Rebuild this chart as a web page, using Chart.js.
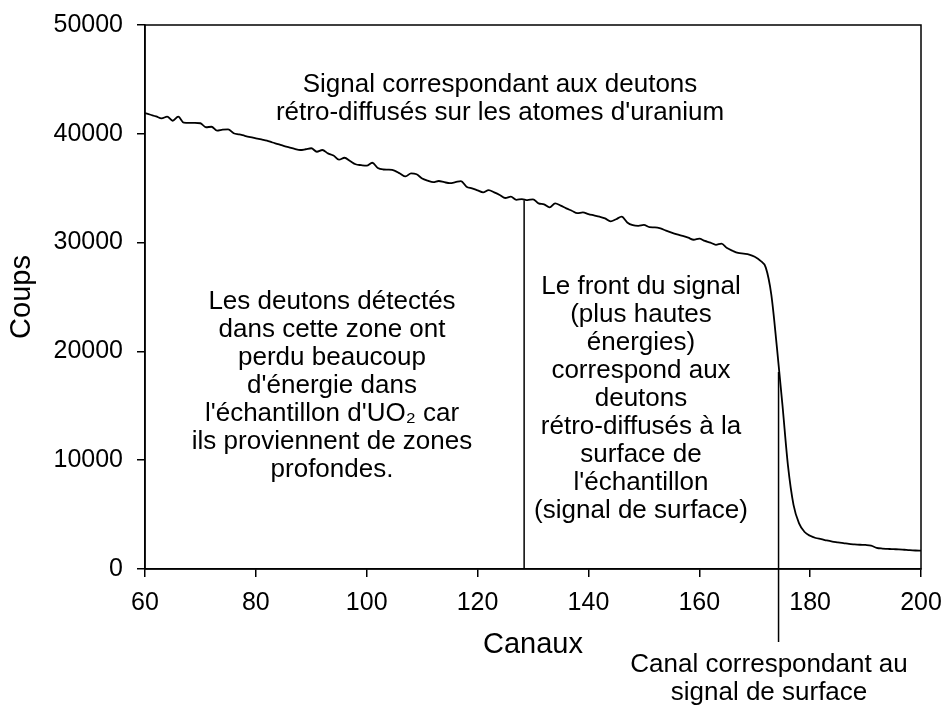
<!DOCTYPE html>
<html lang="fr">
<head>
<meta charset="utf-8">
<title>Coups / Canaux</title>
<script src="https://cdn.jsdelivr.net/npm/chart.js@4.4.1/dist/chart.umd.min.js"></script>
<style>
    html, body { margin: 0; padding: 0; background: #fff; }
    #wrap { width: 943px; height: 706px; position: relative; }
</style>
</head>
<body>
<div id="wrap"><canvas id="spectre"></canvas></div>
<script>
// Spectre : coups par canal, du canal 60 au canal 200
const firstChannel = 60;
const counts = [
    41900, 41750, 41600, 41420, 41570, 41200, 41570, 41020, 41000, 41000,   // 60-69
    40970, 40600, 40650, 40290, 40380, 40410, 40050, 39950, 39820, 39700,   // 70-79
    39590, 39480, 39370, 39200, 39050, 38880, 38750, 38620, 38510, 38580,   // 80-89
    38670, 38350, 38510, 38200, 38000, 37620, 37800, 37500, 37200, 37120,   // 90-99
    37070, 37340, 36850, 36720, 36700, 36620, 36350, 36080, 36370, 36280,   // 100-109
    35900, 35700, 35560, 35660, 35550, 35470, 35550, 35650, 35140, 34980,   // 110-119
    34800, 34620, 34830, 34620, 34380, 34100, 34220, 33930, 34000, 33900,   // 120-129
    33980, 33610, 33520, 33240, 33610, 33400, 33150, 32930, 32700, 32780,   // 130-139
    32620, 32500, 32380, 32230, 31950, 32150, 32380, 31850, 31600, 31540,   // 140-149
    31620, 31420, 31400, 31300, 31100, 30920, 30760, 30620, 30450, 30260,   // 150-159
    30360, 30150, 30000, 29800, 29900, 29500, 29250, 29050, 28980, 28900,   // 160-169
    28700, 28350, 27700, 25200, 20400, 15100, 9500, 5900, 4200, 3400,       // 170-179
    3050, 2850, 2750, 2620, 2520, 2450, 2380, 2300, 2260, 2230,             // 180-189
    2210, 2150, 1950, 1880, 1850, 1820, 1810, 1770, 1730, 1700,             // 190-199
    1680                                                                    // 200
];

// Repères verticaux (canal, bas, haut)
const deepMarkX = [128.4, 128.4];
const deepMarkY = [0, 33900];
const surfaceMarkX = [174.3, 174.3];
const surfaceMarkY = [-6700, 18100];

// Axes
const xTicks = [60, 80, 100, 120, 140, 160, 180, 200];
const yTicks = [0, 10000, 20000, 30000, 40000, 50000];

// Textes explicatifs
const topNote = [
    "Signal correspondant aux deutons",
    "rétro-diffusés sur les atomes d'uranium"
];
const deepNote = [
    "Les deutons détectés",
    "dans cette zone ont",
    "perdu beaucoup",
    "d'énergie dans",
    "l'échantillon d'UO\u2082 car",
    "ils proviennent de zones",
    "profondes."
];
const frontNote = [
    "Le front du signal",
    "(plus hautes",
    "énergies)",
    "correspond aux",
    "deutons",
    "rétro-diffusés à la",
    "surface de",
    "l'échantillon",
    "(signal de surface)"
];
const surfaceNote = [
    "Canal correspondant au",
    "signal de surface"
];

const FONT = '"Liberation Sans", Arial, sans-serif';

const notes = [
    { lines: topNote, x: 500, y: 85, step: 28 },
    { lines: deepNote, x: 332, y: 302, step: 28 },
    { lines: frontNote, x: 641, y: 287, step: 28 },
    { lines: surfaceNote, x: 769, y: 665, step: 28 }
];

// Cadre du graphique + textes
const notesPlugin = {
    id: 'notes',
    afterDraw(chart) {
        const ctx = chart.ctx;
        const { left, top, right, bottom } = chart.chartArea;
        ctx.save();
        ctx.strokeStyle = '#000';
        ctx.lineWidth = 1.5;
        ctx.strokeRect(left, top, right - left, bottom - top);

        ctx.fillStyle = '#000';
        ctx.font = '26px ' + FONT;
        ctx.textAlign = 'center';
        ctx.textBaseline = 'middle';
        notes.forEach(n => {
            n.lines.forEach((t, i) => ctx.fillText(t, n.x, n.y + i * n.step));
        });
        ctx.restore();
    }
};

const spectrum = counts.map((c, i) => ({ x: firstChannel + i, y: c }));
const toPoints = (xs, ys) => xs.map((x, i) => ({ x: x, y: ys[i] }));

const ctx = document.getElementById('spectre').getContext('2d');
new Chart(ctx, {
    type: 'line',
    data: {
        datasets: [
            {
                data: spectrum,
                borderColor: '#000',
                borderWidth: 1.8,
                pointRadius: 0,
                cubicInterpolationMode: 'monotone',
                fill: false
            },
            {
                data: toPoints(deepMarkX, deepMarkY),
                borderColor: '#000',
                borderWidth: 1.5,
                pointRadius: 0,
                tension: 0
            },
            {
                data: toPoints(surfaceMarkX, surfaceMarkY),
                borderColor: '#000',
                borderWidth: 1.5,
                pointRadius: 0,
                tension: 0,
                clip: false
            }
        ]
    },
    options: {
        responsive: true,
        maintainAspectRatio: false,
        animation: false,
        layout: {
            padding: { top: 25, right: 22, bottom: 0, left: 0 }
        },
        plugins: {
            legend: { display: false },
            tooltip: { enabled: false }
        },
        scales: {
            x: {
                type: 'linear',
                min: xTicks[0],
                max: xTicks[xTicks.length - 1],
                afterBuildTicks: scale => { scale.ticks = xTicks.map(v => ({ value: v })); },
                afterFit: scale => {
                    scale.height = 137;
                    scale.paddingLeft = 0;
                    scale.paddingRight = 0;
                },
                grid: { drawOnChartArea: false, drawTicks: true, tickLength: 8, color: '#000', lineWidth: 1.5 },
                border: { display: true, color: '#000', width: 1.5 },
                ticks: {
                    color: '#000',
                    padding: 11,
                    maxRotation: 0,
                    font: { family: FONT, size: 25 },
                    callback: v => String(v)
                },
                title: {
                    display: true,
                    text: 'Canaux',
                    color: '#000',
                    font: { family: FONT, size: 29 },
                    padding: { top: 0, bottom: 44 }
                }
            },
            y: {
                min: yTicks[0],
                max: yTicks[yTicks.length - 1],
                afterBuildTicks: scale => { scale.ticks = yTicks.map(v => ({ value: v })); },
                afterFit: scale => {
                    scale.width = 145;
                    scale.paddingTop = 0;
                    scale.paddingBottom = 0;
                },
                grid: { drawOnChartArea: false, drawTicks: true, tickLength: 8, color: '#000', lineWidth: 1.5 },
                border: { display: true, color: '#000', width: 1.5 },
                ticks: {
                    color: '#000',
                    padding: 14,
                    font: { family: FONT, size: 25 },
                    callback: v => String(v)
                },
                title: {
                    display: true,
                    text: 'Coups',
                    color: '#000',
                    font: { family: FONT, size: 29 },
                    padding: { top: 5, bottom: 0 }
                }
            }
        }
    },
    plugins: [notesPlugin]
});
</script>
</body>
</html>
